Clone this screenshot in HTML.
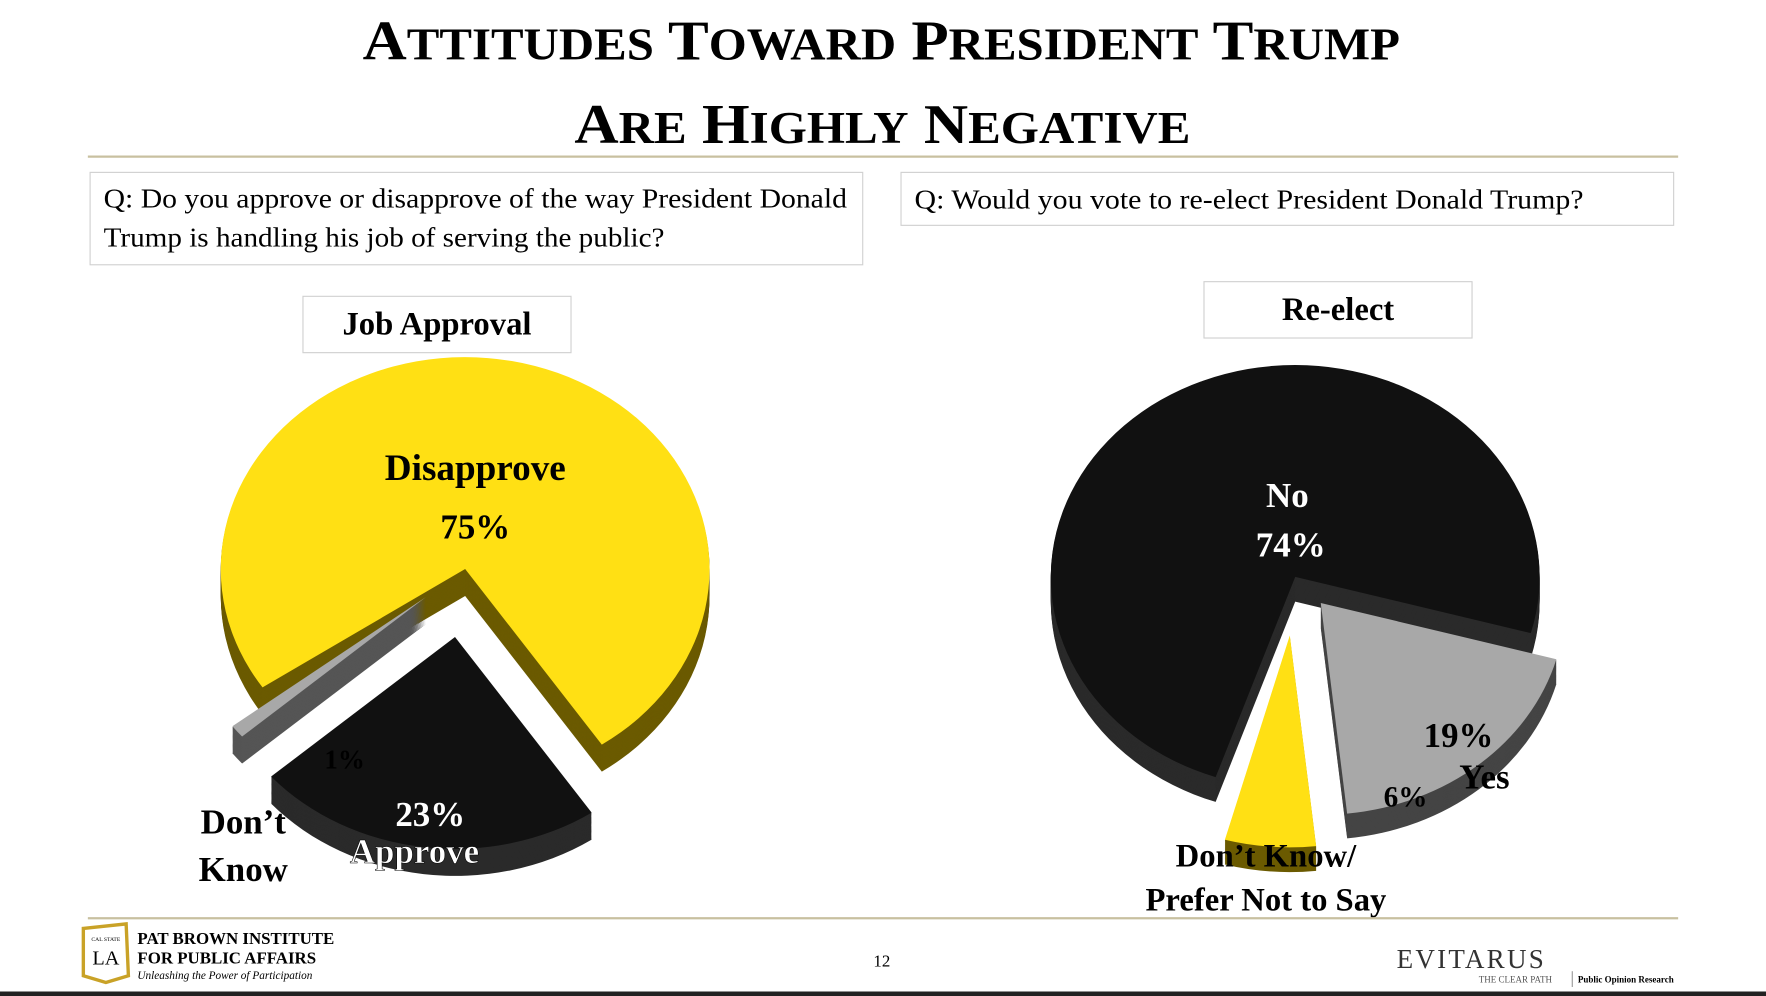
<!DOCTYPE html>
<html><head><meta charset="utf-8"><style>
html,body{margin:0;padding:0;background:#fff;}
svg{display:block;}
text{font-family:"Liberation Serif",serif;}
</style></head><body>
<svg id="chart" width="1766" height="996" viewBox="0 0 1568 884" preserveAspectRatio="none" xmlns="http://www.w3.org/2000/svg">
<rect width="1568" height="884" fill="#fff"/>
<g font-weight="bold" text-anchor="start" fill="#000">
<text x="322" y="53" font-size="50" textLength="921" lengthAdjust="spacingAndGlyphs">A<tspan font-size="40">TTITUDES</tspan> T<tspan font-size="40">OWARD</tspan> P<tspan font-size="40">RESIDENT</tspan> T<tspan font-size="40">RUMP</tspan></text>
<text x="510" y="127" font-size="50" textLength="547" lengthAdjust="spacingAndGlyphs">A<tspan font-size="40">RE</tspan> H<tspan font-size="40">IGHLY</tspan> N<tspan font-size="40">EGATIVE</tspan></text>
</g>
<line x1="78" y1="139" x2="1490" y2="139" stroke="#c8c0a0" stroke-width="2"/>
<g>
<rect x="80" y="153" width="686" height="82" fill="#fff" stroke="#d0d0d0"/>
<text x="92" y="184" font-size="24" textLength="660" lengthAdjust="spacingAndGlyphs">Q: Do you approve or disapprove of the way President Donald</text>
<text x="92" y="219" font-size="24" textLength="498" lengthAdjust="spacingAndGlyphs">Trump is handling his job of serving the public?</text>
</g>
<g>
<rect x="800" y="153" width="686" height="47" fill="#fff" stroke="#d0d0d0"/>
<text x="812" y="185" font-size="24" textLength="594" lengthAdjust="spacingAndGlyphs">Q: Would you vote to re-elect President Donald Trump?</text>
</g>
<g>
<rect x="269" y="263" width="238" height="50" fill="#fff" stroke="#d0d0d0"/>
<text x="388" y="297" font-size="29" font-weight="bold" text-anchor="middle">Job Approval</text>
</g>
<g>
<rect x="1069" y="250" width="238" height="50" fill="#fff" stroke="#d0d0d0"/>
<text x="1188" y="284" font-size="29" font-weight="bold" text-anchor="middle">Re-elect</text>
</g>
<g id="pie1"></g>
<g id="pie2"></g>
<g font-weight="bold" font-size="31" text-anchor="middle">
<text x="422" y="426" font-size="33">Disapprove</text>
<text x="422" y="478">75%</text>
<text x="382" y="733" fill="#fff">23%</text>
<text x="368" y="766" fill="#fff" stroke="#000" stroke-width="0.5">Approve</text>
<text x="306" y="682" font-size="24">1%</text>
<text x="216" y="740">Don’t</text>
<text x="216" y="782">Know</text>
<text x="1143" y="450" fill="#fff">No</text>
<text x="1146" y="494" fill="#fff">74%</text>
<text x="1295" y="663">19%</text>
<text x="1318" y="700">Yes</text>
<text x="1248" y="716" font-size="26">6%</text>
<text x="1124" y="769" font-size="29">Don’t Know/</text>
<text x="1124" y="808" font-size="29">Prefer Not to Say</text>
</g>
<line x1="78" y1="815" x2="1490" y2="815" stroke="#c8c0a0" stroke-width="2"/>
<g>
<path d="M74 824 L112 820 L114 866 L94 872 L74 866 Z" fill="#fff" stroke="#c9a227" stroke-width="3"/>
<text x="94" y="835" font-size="5" font-family="Liberation Sans" text-anchor="middle">CAL STATE</text>
<text x="94" y="856" font-size="18" text-anchor="middle">LA</text>
<text x="122" y="838" font-size="15" font-weight="bold" font-family="Liberation Sans">PAT BROWN INSTITUTE</text>
<text x="122" y="855" font-size="15" font-weight="bold" font-family="Liberation Sans">FOR PUBLIC AFFAIRS</text>
<text x="122" y="869" font-size="10" font-style="italic">Unleashing the Power of Participation</text>
</g>
<text x="783" y="858" font-size="15" text-anchor="middle">12</text>
<g>
<text x="1240" y="859" font-size="24" fill="#333" letter-spacing="2">EVITARUS</text>
<text x="1313" y="872" font-size="8" fill="#555">THE CLEAR PATH</text>
<line x1="1396" y1="862" x2="1396" y2="876" stroke="#999"/>
<text x="1401" y="872" font-size="8" font-weight="bold" font-family="Liberation Sans">Public Opinion Research</text>
</g>
<rect x="0" y="880" width="1568" height="4" fill="#222"/>
</svg>
<script>
// Job approval data (clockwise order from start angle)
const cats1 = ["Disapprove","Approve","Don't Know"];
const vals1 = [75, 23, 1];
// Re-elect data
const cats2 = ["No","Yes","Don't Know/Prefer Not to Say"];
const vals2 = [74, 19, 6];

const NS="http://www.w3.org/2000/svg";
function slicePath(cx,cy,rx,ry,a0,a1){
  const p=a=>{const r=a*Math.PI/180;return [cx+rx*Math.sin(r),cy-ry*Math.cos(r)];};
  const s=p(a0),e=p(a1);const large=(a1-a0)>180?1:0;
  return `M${cx},${cy} L${s[0]},${s[1]} A${rx},${ry} 0 ${large} 1 ${e[0]},${e[1]} Z`;
}
function drawPie(gid,cats,vals,o){
  const g=document.getElementById(gid);
  const total=100;let a=o.start;
  vals.forEach((v,i)=>{
    const sweep=v/total*360;const a0=a,a1=a+sweep;a=a1;
    const mid=(a0+a1)/2*Math.PI/180;
    const ex=o.explode[i];
    const cx=o.cx+ex*Math.sin(mid), cy=o.cy-ex*0.87*Math.cos(mid);
    const sg=document.createElementNS(NS,'g');
    
    
    for(let d=o.depth;d>=1;d--){
      const side=document.createElementNS(NS,'path');
      side.setAttribute('d',slicePath(cx,cy+d,o.rx,o.ry,a0,a1));
      side.setAttribute('fill',o.side[i]);
      sg.appendChild(side);
    }
    const top=document.createElementNS(NS,'path');
    top.setAttribute('d',slicePath(cx,cy,o.rx,o.ry,a0,a1));
    top.setAttribute('fill',o.top[i]);
    sg.appendChild(top);
    g.appendChild(sg);
  });
}
drawPie('pie1',cats1,vals1,{cx:413,cy:505,rx:217,ry:188,depth:24,start:236,
  explode:[0,70,45],top:["#ffe014","#111111","#a8a8a8"],side:["#6b5a00","#2a2a2a","#555555"]});
drawPie('pie2',cats2,vals2,{cx:1150,cy:512,rx:217,ry:188,depth:22,start:199,
  explode:[0,35,60],top:["#111111","#a8a8a8","#ffe014"],side:["#2a2a2a","#444444","#6b5a00"]});
</script>
</body></html>
